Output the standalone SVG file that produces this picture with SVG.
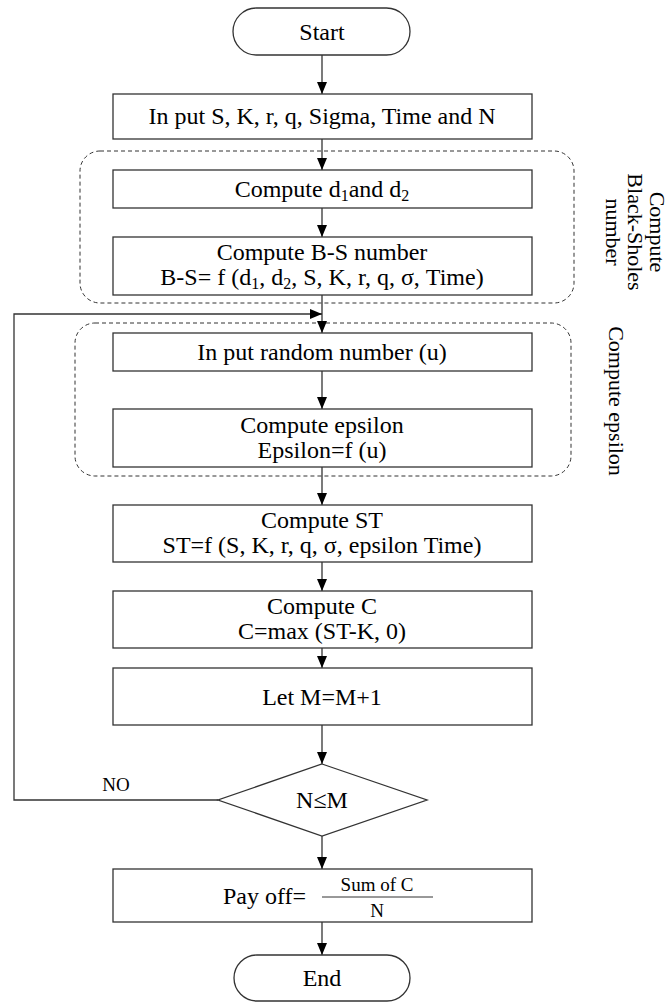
<svg xmlns="http://www.w3.org/2000/svg" width="670" height="1003" viewBox="0 0 670 1003">
<style>
.b{fill:#fff;stroke:#333;stroke-width:1.3}
.d{fill:none;stroke:#333;stroke-width:1;stroke-dasharray:4,3}
.t{font-family:"Liberation Serif","Times New Roman",serif;font-size:24px;fill:#000;text-anchor:middle}
.v{font-family:"Liberation Serif","Times New Roman",serif;font-size:22px;fill:#000;text-anchor:middle}
.s{font-family:"Liberation Serif","Times New Roman",serif;font-size:19px;fill:#000;text-anchor:middle}
.c{fill:none;stroke:#333;stroke-width:1.3}
</style>
<defs>
<marker id="ah" markerWidth="12" markerHeight="10" refX="12" refY="5" orient="auto" markerUnits="userSpaceOnUse">
<path d="M0,0 L12,5 L0,10 Z" fill="#000"/>
</marker>
</defs>
<g id="groups">
<rect class="d" x="80" y="151" width="494" height="152" rx="20"/>
<rect class="d" x="75" y="323" width="496" height="153" rx="20"/>
<text class="v" transform="translate(657,232) rotate(90)" dy="7">Compute</text>
<text class="v" transform="translate(635,232) rotate(90)" dy="7">Black-Sholes</text>
<text class="v" transform="translate(613,232) rotate(90)" dy="7">number</text>
<text class="v" transform="translate(616,401) rotate(90)" dy="7">Compute epsilon</text>
</g>
<g id="connectors">
<line class="c" x1="322" y1="55" x2="322" y2="94" marker-end="url(#ah)"/>
<line class="c" x1="322" y1="139" x2="322" y2="170" marker-end="url(#ah)"/>
<line class="c" x1="322" y1="208" x2="322" y2="237" marker-end="url(#ah)"/>
<line class="c" x1="322" y1="295" x2="322" y2="333" marker-end="url(#ah)"/>
<line class="c" x1="322" y1="371" x2="322" y2="409" marker-end="url(#ah)"/>
<line class="c" x1="322" y1="467" x2="322" y2="505" marker-end="url(#ah)"/>
<line class="c" x1="322" y1="562" x2="322" y2="591" marker-end="url(#ah)"/>
<line class="c" x1="322" y1="648" x2="322" y2="668" marker-end="url(#ah)"/>
<line class="c" x1="322" y1="725" x2="322" y2="764" marker-end="url(#ah)"/>
<line class="c" x1="322" y1="836" x2="322" y2="869" marker-end="url(#ah)"/>
<line class="c" x1="322" y1="922" x2="322" y2="955" marker-end="url(#ah)"/>
<polyline class="c" points="218,800 14,800 14,314 322,314" marker-end="url(#ah)"/>
<text class="s" x="116" y="791" font-size="17">NO</text>
</g>
<g id="start">
<rect class="b" x="233" y="8" width="177" height="47" rx="23.5"/>
<text class="t" x="322" y="40">Start</text>
</g>
<g id="input">
<rect class="b" x="113" y="94" width="419" height="45"/>
<text class="t" x="322" y="124">In put S, K, r, q, Sigma, Time and N</text>
</g>
<g id="d1d2">
<rect class="b" x="113" y="170" width="419" height="38"/>
<text class="t" x="322" y="197">Compute d<tspan font-size="16" dy="4">1</tspan><tspan dy="-4">and d</tspan><tspan font-size="16" dy="4">2</tspan></text>
</g>
<g id="bs">
<rect class="b" x="113" y="237" width="419" height="58"/>
<text class="t" x="322" y="260">Compute B-S number</text>
<text class="t" x="322" y="285">B-S= f (d<tspan font-size="16" dy="4">1</tspan><tspan dy="-4">, d</tspan><tspan font-size="16" dy="4">2</tspan><tspan dy="-4">, S, K, r, q, σ, Time)</tspan></text>
</g>
<g id="random">
<rect class="b" x="113" y="333" width="419" height="38"/>
<text class="t" x="322" y="360">In put random number (u)</text>
</g>
<g id="epsilon">
<rect class="b" x="113" y="409" width="419" height="58"/>
<text class="t" x="322" y="433">Compute epsilon</text>
<text class="t" x="322" y="458">Epsilon=f (u)</text>
</g>
<g id="st">
<rect class="b" x="113" y="505" width="419" height="57"/>
<text class="t" x="322" y="528">Compute ST</text>
<text class="t" x="322" y="553">ST=f (S, K, r, q, σ, epsilon Time)</text>
</g>
<g id="c">
<rect class="b" x="113" y="591" width="419" height="57"/>
<text class="t" x="322" y="614">Compute C</text>
<text class="t" x="322" y="639">C=max (ST-K, 0)</text>
</g>
<g id="m">
<rect class="b" x="113" y="668" width="419" height="57"/>
<text class="t" x="322" y="705">Let M=M+1</text>
</g>
<g id="decision">
<polygon class="b" points="322,764 427,800 322,836 218,800"/>
<text class="t" x="322" y="808">N≤M</text>
</g>
<g id="payoff">
<rect class="b" x="113" y="869" width="419" height="53"/>
<text class="t" x="306" y="904" style="text-anchor:end">Pay off=</text>
<line x1="322" y1="897" x2="433" y2="897" stroke="#333" stroke-width="1"/>
<text class="s" x="377" y="891">Sum of C</text>
<text class="s" x="377" y="917">N</text>
</g>
<g id="end">
<rect class="b" x="234" y="955" width="176" height="46" rx="23"/>
<text class="t" x="322" y="986">End</text>
</g>
</svg>
